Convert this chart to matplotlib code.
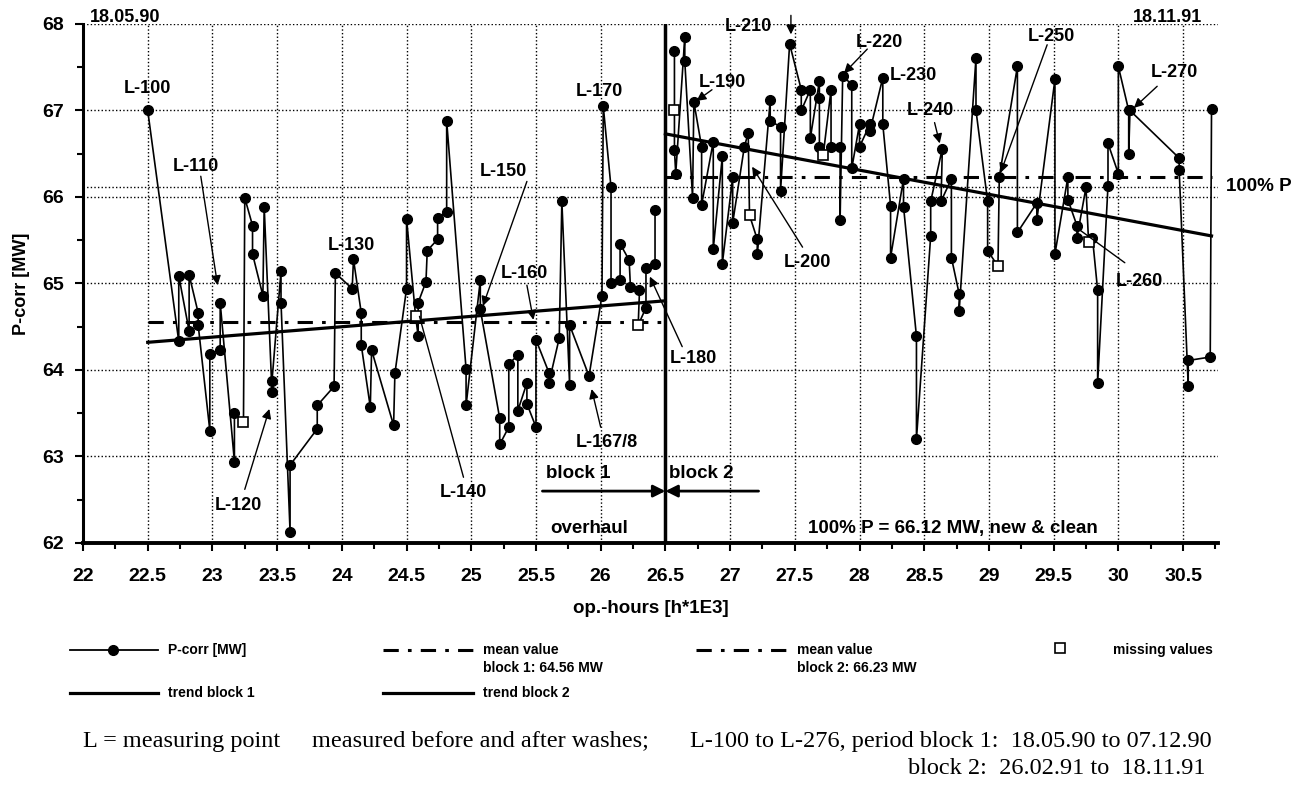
import matplotlib
matplotlib.use("Agg")
import matplotlib.pyplot as plt
from matplotlib.lines import Line2D
from matplotlib.ticker import MultipleLocator, FuncFormatter

W, H = 1295, 787
plt.rcParams["font.family"] = ["Liberation Sans", "DejaVu Sans"]

# ---- measured P-corr, block 1 (path order, 1 = missing value, drawn as square)
b1_hours = [22.50, 22.74, 22.74, 22.82, 22.82, 22.89, 22.89, 22.98, 22.98, 23.06,
            23.06, 23.17, 23.17, 23.24, 23.25, 23.31, 23.31, 23.39, 23.40, 23.46,
            23.46, 23.53, 23.53, 23.60, 23.60, 23.81, 23.81, 23.94, 23.95, 24.08,
            24.09, 24.15, 24.15, 24.22, 24.23, 24.40, 24.41, 24.50, 24.50, 24.57,
            24.59, 24.59, 24.65, 24.66, 24.74, 24.74, 24.81, 24.81, 24.96, 24.96,
            25.07, 25.07, 25.22, 25.22, 25.29, 25.29, 25.36, 25.36, 25.43, 25.43,
            25.50, 25.50, 25.60, 25.60, 25.68, 25.70, 25.76, 25.76, 25.91, 26.01,
            26.02, 26.08, 26.08, 26.15, 26.15, 26.22, 26.23, 26.30, 26.29, 26.35,
            26.35, 26.42, 26.42]
b1_pcorr = [67.00, 64.33, 65.09, 64.45, 65.10, 64.66, 64.52, 63.30, 64.19, 64.23,
            64.78, 62.94, 63.50, 63.40, 65.99, 65.67, 65.34, 64.86, 65.89, 63.75,
            63.87, 65.14, 64.78, 62.13, 62.90, 63.32, 63.59, 63.81, 65.12, 64.94,
            65.28, 64.66, 64.29, 63.57, 64.23, 63.36, 63.96, 64.94, 65.75, 64.62,
            64.39, 64.78, 65.02, 65.38, 65.51, 65.76, 65.83, 66.88, 64.01, 63.59,
            65.04, 64.70, 63.44, 63.14, 63.34, 64.07, 64.17, 63.53, 63.85, 63.61,
            63.34, 64.35, 63.97, 63.85, 64.37, 65.95, 63.83, 64.52, 63.93, 64.86,
            67.05, 66.11, 65.00, 65.04, 65.46, 65.27, 64.96, 64.92, 64.52, 64.72,
            65.18, 65.23, 65.85]
b1_missing = [0] * 13 + [1] + [0] * 25 + [1] + [0] * 38 + [1] + [0] * 4

# ---- block 2
b2_hours = [26.57, 26.57, 26.57, 26.58, 26.65, 26.65, 26.71, 26.72, 26.78, 26.78,
            26.87, 26.87, 26.94, 26.94, 27.02, 27.02, 27.11, 27.14, 27.15, 27.21,
            27.21, 27.31, 27.31, 27.39, 27.39, 27.46, 27.55, 27.55, 27.62, 27.62,
            27.69, 27.69, 27.69, 27.72, 27.78, 27.78, 27.85, 27.85, 27.87, 27.94,
            27.94, 28.00, 28.00, 28.08, 28.08, 28.18, 28.18, 28.24, 28.24, 28.34,
            28.34, 28.44, 28.44, 28.55, 28.55, 28.64, 28.63, 28.71, 28.71, 28.77,
            28.77, 28.90, 28.90, 28.99, 28.99, 29.07, 29.08, 29.22, 29.22, 29.37,
            29.37, 29.51, 29.51, 29.61, 29.61, 29.68, 29.68, 29.75, 29.77, 29.80,
            29.84, 29.84, 29.92, 29.92, 30.00, 30.00, 30.08, 30.08, 30.09, 30.47,
            30.47, 30.54, 30.54, 30.71, 30.72]
b2_pcorr = [67.69, 67.00, 66.54, 66.27, 67.85, 67.57, 65.99, 67.10, 66.58, 65.91,
            66.64, 65.40, 66.47, 65.23, 66.23, 65.70, 66.58, 66.74, 65.79, 65.51,
            65.34, 67.12, 66.88, 66.81, 66.07, 67.77, 67.24, 67.00, 67.24, 66.68,
            67.34, 67.14, 66.58, 66.49, 67.24, 66.58, 66.58, 65.73, 67.40, 67.30,
            66.33, 66.84, 66.58, 66.84, 66.76, 67.38, 66.84, 65.90, 65.30, 66.21,
            65.89, 64.39, 63.20, 65.55, 65.95, 66.56, 65.95, 66.21, 65.30, 64.88,
            64.68, 67.61, 67.00, 65.95, 65.38, 65.20, 66.23, 67.51, 65.59, 65.93,
            65.73, 67.36, 65.34, 66.23, 65.97, 65.67, 65.53, 66.11, 65.48, 65.53,
            64.92, 63.85, 66.13, 66.62, 66.27, 67.51, 67.00, 66.50, 67.00, 66.45,
            66.31, 63.81, 64.11, 64.15, 67.02]
b2_missing = ([0, 1] + [0] * 16 + [1] + [0] * 14 + [1] + [0] * 31 + [1]
              + [0] * 12 + [1] + [0] * 16)

# mean values and trends per block
mean_b1, mean_b1_span = 64.56, [22.5, 26.5]
mean_b2, mean_b2_span = 66.23, [26.5, 30.72]
trend_b1_hours, trend_b1_pcorr = [22.5, 26.5], [64.32, 64.80]
trend_b2_hours, trend_b2_pcorr = [26.5, 30.72], [66.73, 65.55]
p100 = 66.12
overhaul_at = 26.5

# measuring point labels
lab_text = ["L-100", "L-110", "L-120", "L-130", "L-140", "L-150", "L-160", "L-167/8",
            "L-170", "L-180", "L-190", "L-200", "L-210", "L-220", "L-230", "L-240",
            "L-250", "L-260", "L-270"]
lab_x = [22.50, 22.87, 23.20, 24.07, 24.94, 25.25, 25.41, 26.05, 25.99, 26.72,
         26.94, 27.60, 27.14, 28.15, 28.42, 28.55, 29.48, 30.16, 30.43]
lab_y = [67.25, 66.35, 62.43, 65.44, 62.58, 66.29, 65.12, 63.16, 67.22, 64.13,
         67.32, 65.24, 67.97, 67.79, 67.40, 67.00, 67.85, 65.02, 67.44]
# leader lines: start, tip, arrowhead?
arr_x0 = [22.91, 23.25, 24.94, 25.43, 25.43, 26.00, 26.63, 26.86, 27.56, 27.47, 28.06, 28.58, 29.45, 30.05, 30.30]
arr_y0 = [66.24, 62.62, 62.76, 66.18, 64.98, 63.34, 64.27, 67.24, 65.42, 68.10, 67.71, 66.86, 67.76, 65.24, 67.28]
arr_x1 = [23.04, 23.44, 24.60, 25.09, 25.48, 25.93, 26.38, 26.74, 27.17, 27.47, 27.88, 28.62, 29.09, 29.71, 30.12]
arr_y1 = [64.98, 63.55, 64.62, 64.74, 64.58, 63.78, 65.08, 67.11, 66.35, 67.88, 67.43, 66.62, 66.28, 65.61, 67.03]
arr_head = [1, 1, 0, 1, 1, 1, 1, 1, 1, 1, 1, 1, 1, 0, 1]

fig = plt.figure(figsize=(W / 100, H / 100), dpi=100)
ax = fig.add_axes([83 / W, 1 - 543 / H, 1135 / W, 519 / H])
ax.set_xlim(22, 30.77); ax.set_ylim(62, 68)

dots = (0, (1, 1.6))
ax.xaxis.set_major_locator(MultipleLocator(0.5)); ax.xaxis.set_minor_locator(MultipleLocator(0.25))
ax.yaxis.set_major_locator(MultipleLocator(1)); ax.yaxis.set_minor_locator(MultipleLocator(0.5))
ax.xaxis.set_major_formatter(FuncFormatter(lambda v, p: f"{v:g}"))
ax.grid(True, which="major", color="k", ls=dots, lw=1.0)
ax.axhline(p100, color="k", ls=dots, lw=1.0)
ax.spines[["top", "right"]].set_visible(False)
ax.spines["left"].set_linewidth(2.2); ax.spines["bottom"].set_linewidth(2.8)
ax.tick_params(which="both", direction="out", width=1.5, labelsize=14, pad=8)
ax.tick_params(axis="x", which="major", pad=12)
ax.tick_params(which="major", length=6); ax.tick_params(which="minor", length=4)
for t in ax.get_xticklabels() + ax.get_yticklabels():
    t.set_fontweight("bold")
ax.set_ylabel("P-corr [MW]", fontsize=13, fontweight="bold")
ax.yaxis.set_label_coords(-0.047, 0.5)
ax.set_xlabel("op.-hours [h*1E3]", fontsize=13.5, fontweight="bold")
ax.xaxis.set_label_coords(0.5, -0.11)

ax.axvline(overhaul_at, color="k", lw=2.5, zorder=4)

# mean value lines and trend lines
dashdot = (0, (5, 3, 1.2, 3))
ax.plot(mean_b1_span, [mean_b1] * 2, color="k", lw=2.2, ls=dashdot, zorder=3)
ax.plot(mean_b2_span, [mean_b2] * 2, color="k", lw=2.2, ls=dashdot, zorder=3)
ax.plot(trend_b1_hours, trend_b1_pcorr, color="k", lw=2.3, zorder=3)
ax.plot(trend_b2_hours, trend_b2_pcorr, color="k", lw=2.3, zorder=3)

for hrs, pc, miss in [(b1_hours, b1_pcorr, b1_missing), (b2_hours, b2_pcorr, b2_missing)]:
    ax.plot(hrs, pc, color="k", lw=1.2, zorder=5)
    ax.plot([h for h, m in zip(hrs, miss) if not m], [p for p, m in zip(pc, miss) if not m],
            "o", color="k", ms=7, zorder=6)
    ax.plot([h for h, m in zip(hrs, miss) if m], [p for p, m in zip(pc, miss) if m],
            "s", mfc="white", mec="k", mew=1.2, ms=7, zorder=7)

lab_kw = dict(fontsize=13, fontweight="bold", ha="center", va="center", zorder=8)
for t, x, y in zip(lab_text, lab_x, lab_y):
    ax.text(x, y, t, clip_on=False, **lab_kw)
for x0, y0, x1, y1, hd in zip(arr_x0, arr_y0, arr_x1, arr_y1, arr_head):
    ax.annotate("", xy=(x1, y1), xytext=(x0, y0), annotation_clip=False,
                arrowprops=dict(arrowstyle="-|>" if hd else "-", color="k", lw=1.0,
                                mutation_scale=14, shrinkA=0, shrinkB=0), zorder=8)

txt_kw = dict(fontsize=13.5, fontweight="bold", va="center")
ax.text(22.05, 67.98, "18.05.90", fontsize=13, fontweight="bold", va="bottom")
ax.text(30.11, 67.98, "18.11.91", fontsize=13, fontweight="bold", va="bottom")
ax.text(30.83, p100, "100% P", clip_on=False, **txt_kw)
ax.text(25.58, 62.8, "block 1", **txt_kw)
ax.text(26.53, 62.8, "block 2", **txt_kw)
ax.text(25.61, 62.17, "overhaul", **txt_kw)
ax.text(27.60, 62.17, f"100% P = {p100:.2f} MW, new & clean", **txt_kw)
ax.annotate("", xy=(overhaul_at, 62.6), xytext=(25.55, 62.6),
            arrowprops=dict(arrowstyle="-|>", color="k", lw=2, mutation_scale=18, shrinkA=0, shrinkB=0))
ax.annotate("", xy=(overhaul_at, 62.6), xytext=(27.22, 62.6),
            arrowprops=dict(arrowstyle="-|>", color="k", lw=2, mutation_scale=18, shrinkA=0, shrinkB=0))


# ---- legend below the chart (figure pixel coordinates)
def fx(px): return px / W
def fy(py): return 1 - py / H


def leg_line(x0, x1, y, **kw):
    fig.add_artist(Line2D([fx(x0), fx(x1)], [fy(y), fy(y)], transform=fig.transFigure, color="k", **kw))


leg_kw = dict(fontsize=10, fontweight="bold", va="center")
leg_line(70, 158, 650, lw=1.3)
fig.add_artist(Line2D([fx(113)], [fy(650)], transform=fig.transFigure, marker="o", color="k", ms=7))
fig.text(fx(168), fy(650), "P-corr [MW]", **leg_kw)
leg_line(383, 473, 650, lw=2.2, ls=dashdot)
fig.text(fx(483), fy(650), "mean value", **leg_kw)
fig.text(fx(483), fy(668), f"block 1: {mean_b1:.2f} MW", **leg_kw)
leg_line(696, 788, 650, lw=2.2, ls=dashdot)
fig.text(fx(797), fy(650), "mean value", **leg_kw)
fig.text(fx(797), fy(668), f"block 2: {mean_b2:.2f} MW", **leg_kw)
fig.add_artist(Line2D([fx(1060)], [fy(648)], transform=fig.transFigure, marker="s",
                      mfc="white", mec="k", mew=1.2, ms=7, ls="none"))
fig.text(fx(1113), fy(650), "missing values", **leg_kw)
leg_line(70, 158, 693, lw=2.3)
fig.text(fx(168), fy(693), "trend block 1", **leg_kw)
leg_line(383, 473, 693, lw=2.3)
fig.text(fx(483), fy(693), "trend block 2", **leg_kw)

ser_kw = dict(fontsize=17.5, family="Liberation Serif", va="center")
fig.text(fx(83), fy(741), "L = measuring point", **ser_kw)
fig.text(fx(312), fy(741), "measured before and after washes;", **ser_kw)
fig.text(fx(690), fy(741), "L-100 to L-276, period block 1:  18.05.90 to 07.12.90", **ser_kw)
fig.text(fx(908), fy(769), "block 2:  26.02.91 to  18.11.91", **ser_kw)

fig.savefig("out.png", dpi=100)
